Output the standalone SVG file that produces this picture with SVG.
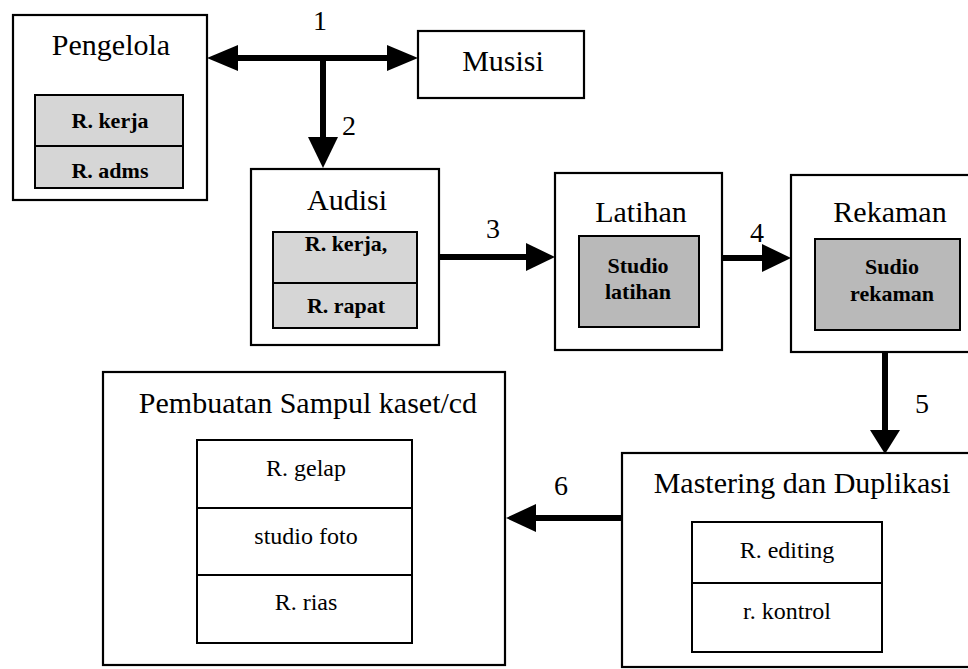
<svg xmlns="http://www.w3.org/2000/svg" width="968" height="669" viewBox="0 0 968 669">
  <style>
    .box { fill: #ffffff; stroke: #000000; stroke-width: 2.2; }
    .light { fill: #d6d6d6; stroke: #000000; stroke-width: 2; }
    .dark { fill: #b9b9b9; stroke: #000000; stroke-width: 2; }
    .cell { fill: #ffffff; stroke: #000000; stroke-width: 2; }
    .title { font-family: "Liberation Serif", "Times New Roman", serif; font-size: 30px; fill: #000; text-anchor: middle; }
    .sub { font-family: "Liberation Serif", "Times New Roman", serif; font-size: 24px; fill: #000; text-anchor: middle; }
    .subb { font-family: "Liberation Serif", "Times New Roman", serif; font-size: 22px; font-weight: bold; fill: #000; text-anchor: middle; }
    .num { font-family: "Liberation Serif", "Times New Roman", serif; font-size: 28px; fill: #000; text-anchor: middle; }
    .wire { fill: none; stroke: #000000; stroke-width: 6; }
    .head { fill: #000000; }
  </style>

  <rect width="968" height="669" fill="#ffffff"/>

  <!-- Pengelola -->
  <g id="pengelola">
    <rect class="box" x="13" y="15" width="194" height="185"/>
    <text class="title" x="111" y="55">Pengelola</text>
    <rect class="light" x="35" y="95" width="148" height="93"/>
    <line x1="35" y1="146" x2="183" y2="146" stroke="#000" stroke-width="2"/>
    <text class="subb" x="110" y="128">R. kerja</text>
    <text class="subb" x="110" y="178">R. adms</text>
  </g>

  <!-- Musisi -->
  <g id="musisi">
    <rect class="box" x="418" y="31" width="166" height="67"/>
    <text class="title" x="503" y="71">Musisi</text>
  </g>

  <!-- Audisi -->
  <g id="audisi">
    <rect class="box" x="251" y="169" width="188" height="176"/>
    <text class="title" x="347" y="210">Audisi</text>
    <rect class="light" x="273" y="232" width="144" height="96"/>
    <line x1="273" y1="283" x2="417" y2="283" stroke="#000" stroke-width="2"/>
    <text class="subb" x="346" y="251">R. kerja,</text>
    <text class="subb" x="346" y="313">R. rapat</text>
  </g>

  <!-- Latihan -->
  <g id="latihan">
    <rect class="box" x="555" y="173" width="167" height="177"/>
    <text class="title" x="641" y="222">Latihan</text>
    <rect class="dark" x="579" y="236" width="120" height="91"/>
    <text class="subb" x="638" y="273">Studio</text>
    <text class="subb" x="638" y="299">latihan</text>
  </g>

  <!-- Rekaman -->
  <g id="rekaman">
    <rect class="box" x="791" y="175" width="190" height="177"/>
    <text class="title" x="890" y="222">Rekaman</text>
    <rect class="dark" x="815" y="239" width="145" height="91"/>
    <text class="subb" x="892" y="274">Sudio</text>
    <text class="subb" x="892" y="301">rekaman</text>
  </g>

  <!-- Mastering dan Duplikasi -->
  <g id="mastering">
    <rect class="box" x="622" y="453" width="360" height="214"/>
    <text class="title" x="802" y="493">Mastering dan Duplikasi</text>
    <rect class="cell" x="692" y="522" width="190" height="130"/>
    <line x1="692" y1="583" x2="882" y2="583" stroke="#000" stroke-width="2"/>
    <text class="sub" x="787" y="558">R. editing</text>
    <text class="sub" x="787" y="619">r. kontrol</text>
  </g>

  <!-- Pembuatan Sampul kaset/cd -->
  <g id="pembuatan">
    <rect class="box" x="103" y="372" width="402" height="293"/>
    <text class="title" x="308" y="413">Pembuatan Sampul kaset/cd</text>
    <rect class="cell" x="197" y="440" width="215" height="203"/>
    <line x1="197" y1="508" x2="412" y2="508" stroke="#000" stroke-width="2"/>
    <line x1="197" y1="575" x2="412" y2="575" stroke="#000" stroke-width="2"/>
    <text class="sub" x="306" y="476">R. gelap</text>
    <text class="sub" x="306" y="544">studio foto</text>
    <text class="sub" x="306" y="610">R. rias</text>
  </g>

  <!-- Connectors -->
  <g id="connectors">
    <!-- 1: Pengelola <-> Musisi -->
    <line class="wire" x1="235" y1="58" x2="390" y2="58"/>
    <polygon class="head" points="207,58 238,45 238,71"/>
    <polygon class="head" points="418,58 387,45 387,71"/>
    <!-- 2: down to Audisi -->
    <line class="wire" x1="323" y1="58" x2="323" y2="140"/>
    <polygon class="head" points="323,168 308,137 338,137"/>
    <!-- 3: Audisi -> Latihan -->
    <line class="wire" x1="439" y1="257" x2="529" y2="257"/>
    <polygon class="head" points="555,257 526,243 526,271"/>
    <!-- 4: Latihan -> Rekaman -->
    <line class="wire" x1="722" y1="258" x2="765" y2="258"/>
    <polygon class="head" points="791,258 762,244 762,272"/>
    <!-- 5: Rekaman -> Mastering -->
    <line class="wire" x1="885" y1="352" x2="885" y2="434"/>
    <polygon class="head" points="885,454 870,430 900,430"/>
    <!-- 6: Mastering -> Pembuatan -->
    <line class="wire" x1="622" y1="518" x2="533" y2="518"/>
    <polygon class="head" points="506,518 536,504 536,532"/>
  </g>

  <!-- Flow numbers -->
  <g id="labels">
    <text class="num" x="320" y="30">1</text>
    <text class="num" x="349" y="135">2</text>
    <text class="num" x="493" y="238">3</text>
    <text class="num" x="757" y="242">4</text>
    <text class="num" x="922" y="413">5</text>
    <text class="num" x="561" y="495">6</text>
  </g>
</svg>
